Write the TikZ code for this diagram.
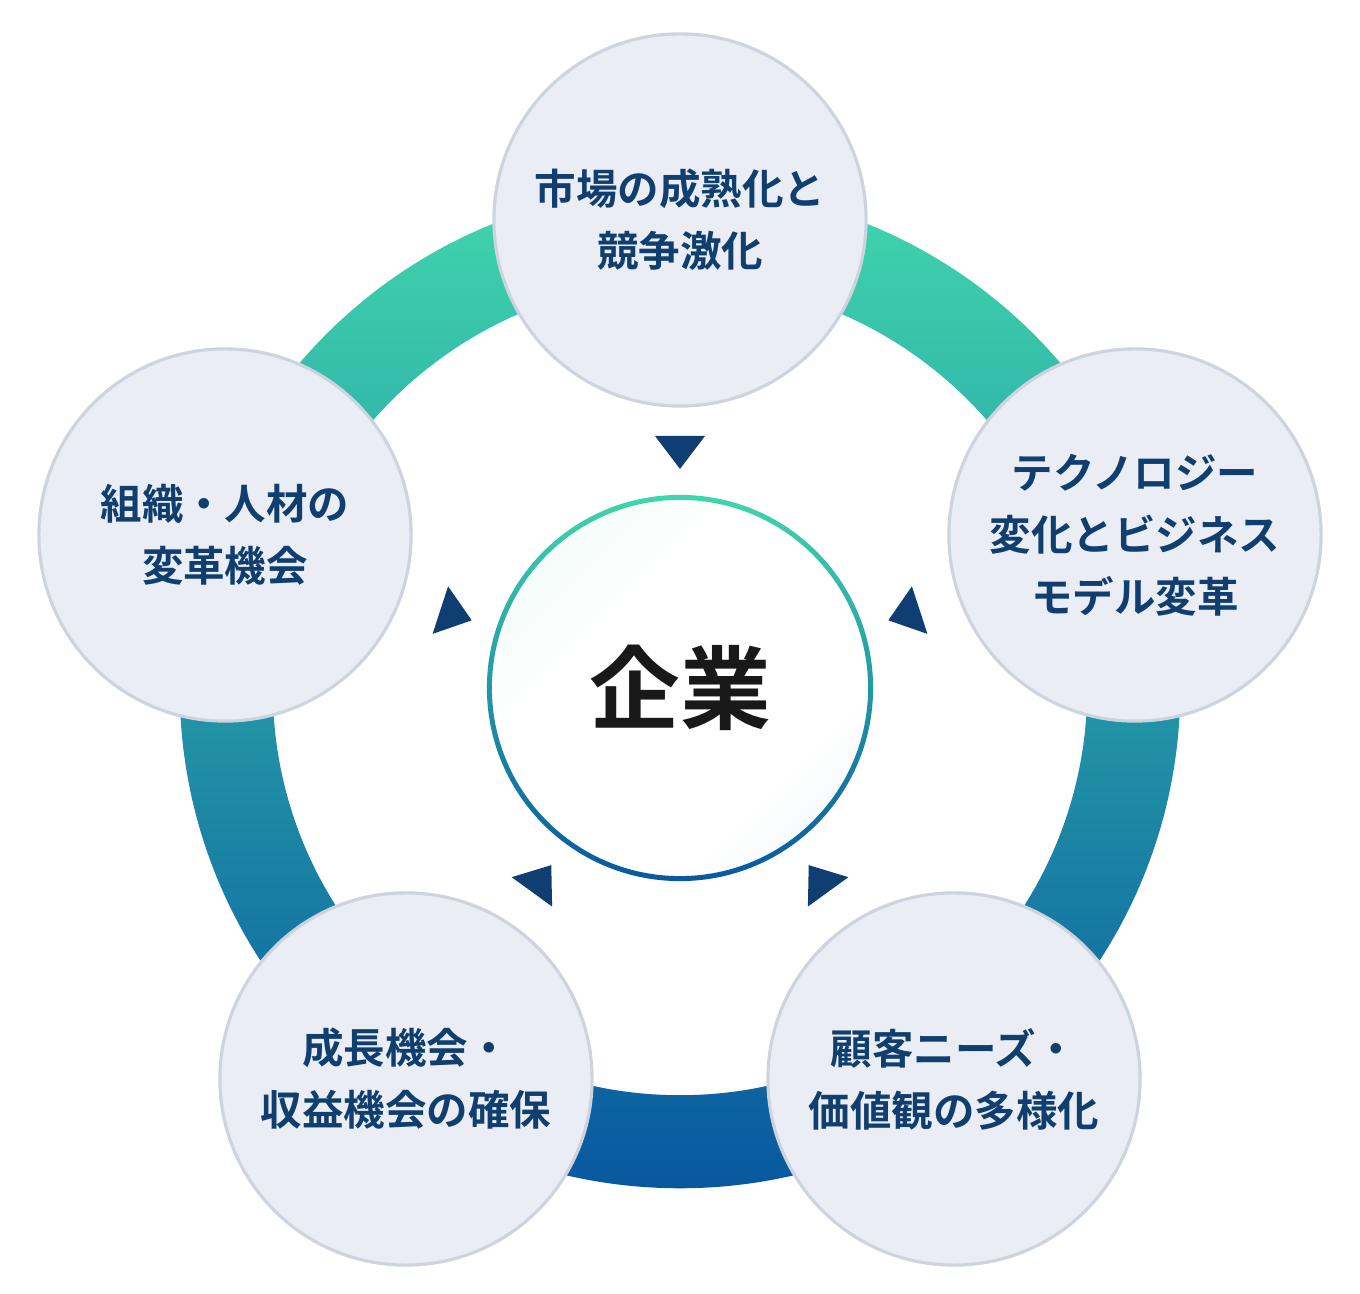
\documentclass[tikz,border=0pt]{standalone}
\usepackage{fontspec}
\newfontfamily\cjk{Noto Sans CJK JP}[BoldFont={Noto Sans CJK JP Bold}]
\definecolor{ringtop}{RGB}{64,214,172}
\definecolor{ringbot}{RGB}{8,88,160}
\definecolor{bubblefill}{RGB}{234,238,244}
\definecolor{bubbleline}{RGB}{205,212,222}
\definecolor{navy}{RGB}{16,62,110}
\definecolor{tipcolor}{RGB}{14,62,114}
\definecolor{mintlt}{RGB}{224,248,238}
\definecolor{bluelt}{RGB}{220,231,243}
\pgfdeclareverticalshading{coreshade}{100bp}{color(0bp)=(bluelt); color(32bp)=(white); color(62bp)=(white); color(100bp)=(mintlt)}
\begin{document}
\begin{tikzpicture}[x=0.01cm,y=0.01cm,
        bubble/.style={circle, fill=bubblefill, draw=bubbleline, line width=0.9pt,
            minimum size=3.72cm, inner sep=0pt, align=center, text=navy,
            font=\cjk\bfseries\fontsize{11.8}{17.6}\selectfont},
        tipmark/.style={fill=tipcolor}]
        \useasboundingbox (0,0) rectangle (1360,1294);
        \fill[white] (0,0) rectangle (1360,1294);
        \coordinate (c) at (680,606);
        % ring
        \shade[top color=ringtop, bottom color=ringbot, even odd rule] (c) circle (5cm) (c) circle (4.07cm);
        % outer circles
        \node[bubble] (market) at (680,1074) {市場の成熟化と\\競争激化};
        \node[bubble] (tech) at (1135,759) {テクノロジー\\変化とビジネス\\モデル変革};
        \node[bubble] (needs) at (954,215) {顧客ニーズ・\\価値観の多様化};
        \node[bubble] (growth) at (406,215) {成長機会・\\収益機会の確保};
        \node[bubble] (org) at (225,759) {組織・人材の\\変革機会};
        % center
        \shade[shading=coreshade, shading angle=45] (c) circle (1.89cm);
        \shade[top color=ringtop, bottom color=ringbot, even odd rule] (c) circle (1.93cm) (c) circle (1.88cm);
        \node[font=\cjk\bfseries\fontsize{25.8}{30}\selectfont, text=black!90] (firm) at (c) {企業};
        % triangles
        \foreach \a in {90,162,234,306,18}
            \fill[tipmark, shift={(c)}, rotate=\a] (219,0) -- (252,25) -- (252,-25) -- cycle;
    \end{tikzpicture}
\end{document}
